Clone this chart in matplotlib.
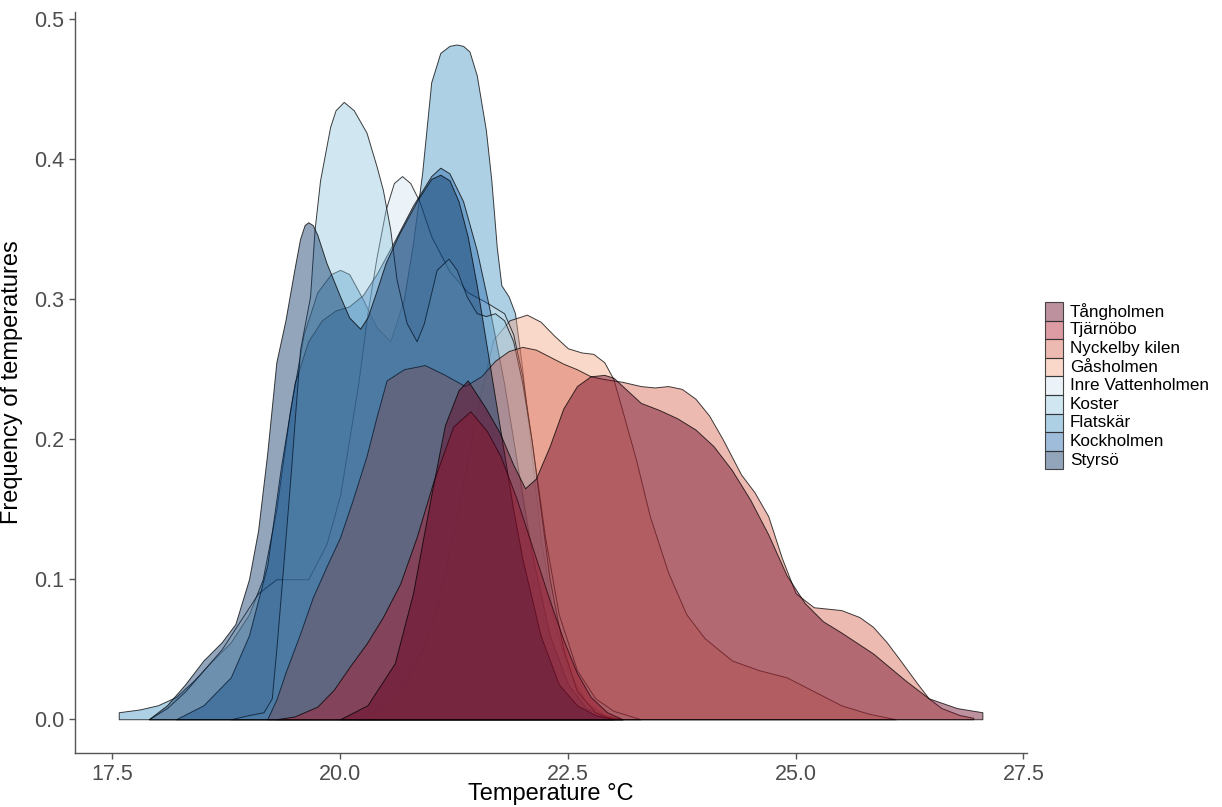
import matplotlib
matplotlib.use("Agg")
import matplotlib.pyplot as plt
from matplotlib.colors import to_rgb

# ---------------- data ----------------
sites = ["Tångholmen", "Tjärnöbo", "Nyckelby kilen", "Gåsholmen",
         "Inre Vattenholmen", "Koster", "Flatskär", "Kockholmen", "Styrsö"]
fills = ["#67001f", "#b2182b", "#d6604d", "#f4a582",
         "#d1e5f0", "#92c5de", "#4393c3", "#2166ac", "#053061"]
# drawing order (factor levels, alphabetical)
draw_order = ["Flatskär", "Gåsholmen", "Inre Vattenholmen", "Kockholmen", "Koster",
              "Nyckelby kilen", "Styrsö", "Tjärnöbo", "Tångholmen"]

styrso_t = [17.9, 18.1, 18.3, 18.5, 18.7, 18.85, 19.0, 19.1, 19.2, 19.3, 19.4, 19.5, 19.56, 19.61, 19.65,
            19.7, 19.75, 19.85, 20.0, 20.1, 20.22, 20.3, 20.4, 20.5, 20.65, 20.85, 21.0, 21.1, 21.2,
            21.3, 21.4, 21.5, 21.6, 21.7, 21.8, 21.9, 22.0, 22.2, 22.4, 22.6, 22.8, 23.0]
styrso_d = [0.0, 0.01, 0.025, 0.042, 0.055, 0.068, 0.1, 0.135, 0.19, 0.255, 0.285, 0.322, 0.343, 0.353, 0.355,
            0.353, 0.346, 0.326, 0.302, 0.287, 0.279, 0.287, 0.306, 0.326, 0.347, 0.371, 0.386, 0.389, 0.385,
            0.37, 0.345, 0.31, 0.27, 0.23, 0.19, 0.15, 0.115, 0.06, 0.025, 0.01, 0.003, 0.0]

kock_t = [18.2, 18.5, 18.8, 19.0, 19.2, 19.35, 19.5, 19.65, 19.8, 19.95, 20.1, 20.25, 20.4, 20.6, 20.8,
          21.0, 21.1, 21.2, 21.35, 21.5, 21.65, 21.8, 21.95, 22.1, 22.3, 22.5, 22.7, 22.9, 23.1]
kock_d = [0.0, 0.01, 0.03, 0.06, 0.11, 0.18, 0.24, 0.27, 0.285, 0.292, 0.295, 0.303, 0.318, 0.342, 0.367,
          0.388, 0.394, 0.39, 0.37, 0.335, 0.29, 0.24, 0.18, 0.12, 0.06, 0.025, 0.008, 0.002, 0.0]

flat_t = [17.57, 17.8, 18.0, 18.2, 18.4, 18.6, 18.8, 19.0, 19.15, 19.3, 19.45, 19.6, 19.75, 19.9, 20.0,
          20.1, 20.25, 20.4, 20.55, 20.7, 20.8, 20.9, 21.0, 21.1, 21.2, 21.28, 21.35, 21.42, 21.5, 21.6,
          21.66, 21.72, 21.77, 21.85, 21.92, 22.0, 22.1, 22.2, 22.35, 22.5, 22.7, 22.9, 23.1]
flat_d = [0.005, 0.007, 0.01, 0.016, 0.028, 0.042, 0.055, 0.075, 0.1, 0.15, 0.22, 0.275, 0.305, 0.318, 0.321,
          0.318, 0.3, 0.28, 0.27, 0.3, 0.34, 0.39, 0.455, 0.476, 0.481, 0.482, 0.481, 0.477, 0.46, 0.421,
          0.385, 0.337, 0.31, 0.302, 0.29, 0.25, 0.19, 0.13, 0.07, 0.035, 0.012, 0.003, 0.0]

koster_t = [18.8, 19.0, 19.16, 19.25, 19.3, 19.36, 19.45, 19.56, 19.67, 19.72, 19.78, 19.89, 19.95,
            20.04, 20.15, 20.29, 20.4, 20.47, 20.55, 20.62, 20.73, 20.84, 20.92, 20.99, 21.06, 21.19,
            21.28, 21.39, 21.5, 21.6, 21.7, 21.8, 21.9, 22.0, 22.1, 22.2, 22.3, 22.45, 22.6, 22.8, 23.0]
koster_d = [0.0, 0.003, 0.005, 0.015, 0.05, 0.097, 0.169, 0.264, 0.302, 0.35, 0.385, 0.423, 0.435,
            0.441, 0.435, 0.419, 0.395, 0.378, 0.35, 0.314, 0.283, 0.27, 0.283, 0.302, 0.321, 0.329,
            0.321, 0.302, 0.29, 0.288, 0.29, 0.285, 0.27, 0.24, 0.2, 0.15, 0.1, 0.05, 0.02, 0.005, 0.0]

inre_t = [17.9, 18.1, 18.3, 18.5, 18.7, 18.9, 19.1, 19.3, 19.5, 19.65, 19.85, 20.0, 20.1, 20.2, 20.3,
          20.4, 20.5, 20.59, 20.68, 20.77, 20.87, 21.0, 21.2, 21.4, 21.6, 21.8, 21.9, 22.0, 22.1, 22.25,
          22.4, 22.6, 22.8, 23.0, 23.3]
inre_d = [0.0, 0.008, 0.02, 0.035, 0.05, 0.07, 0.09, 0.1, 0.1, 0.1, 0.125, 0.16, 0.2, 0.24, 0.29,
          0.33, 0.364, 0.383, 0.388, 0.383, 0.37, 0.345, 0.32, 0.305, 0.298, 0.29, 0.275, 0.245, 0.2, 0.13,
          0.075, 0.035, 0.015, 0.006, 0.0]

gas_t = [20.2, 20.5, 20.7, 20.9, 21.1, 21.3, 21.5, 21.68, 21.86, 22.05, 22.2, 22.35, 22.5, 22.65,
         22.78, 22.9, 23.0, 23.1, 23.25, 23.4, 23.6, 23.8, 24.0, 24.3, 24.6, 24.9, 25.2, 25.5,
         25.8, 26.1]
gas_d = [0.0, 0.01, 0.025, 0.05, 0.09, 0.15, 0.22, 0.271, 0.285, 0.289, 0.284, 0.274, 0.265, 0.262,
         0.261, 0.255, 0.243, 0.22, 0.185, 0.145, 0.105, 0.075, 0.058, 0.042, 0.035, 0.03, 0.02, 0.01,
         0.004, 0.0]

nyck_t = [19.2, 19.3, 19.41, 19.56, 19.7, 19.85, 20.0, 20.14, 20.29, 20.4, 20.51, 20.7, 20.93, 21.15,
          21.37, 21.55, 21.7, 21.85, 22.0, 22.15, 22.3, 22.45, 22.6, 22.75, 22.9, 23.1, 23.3, 23.45,
          23.6, 23.75, 23.9, 24.05, 24.2, 24.4, 24.55, 24.7, 24.85, 25.0, 25.2, 25.5, 25.7, 25.85,
          26.0, 26.15, 26.33, 26.46, 26.6, 26.8, 26.95]
nyck_d = [0.0, 0.014, 0.035, 0.061, 0.087, 0.109, 0.13, 0.157, 0.188, 0.216, 0.242, 0.25, 0.253, 0.246,
          0.238, 0.245, 0.256, 0.263, 0.266, 0.264, 0.259, 0.254, 0.25, 0.245, 0.243, 0.241, 0.238, 0.237,
          0.238, 0.236, 0.229, 0.217, 0.2, 0.175, 0.162, 0.145, 0.115, 0.09, 0.08, 0.078, 0.073, 0.066,
          0.055, 0.042, 0.026, 0.015, 0.008, 0.003, 0.001]

tjarn_t = [19.3, 19.5, 19.75, 19.93, 20.11, 20.29, 20.47, 20.66, 20.84, 21.02, 21.24, 21.43, 21.61,
           21.76, 21.94, 22.12, 22.3, 22.45, 22.6, 22.75, 22.93, 23.1]
tjarn_d = [0.0, 0.002, 0.009, 0.021, 0.038, 0.054, 0.073, 0.097, 0.13, 0.169, 0.209, 0.22, 0.206,
           0.188, 0.157, 0.121, 0.085, 0.057, 0.033, 0.016, 0.005, 0.0]

tang_t = [20.0, 20.3, 20.6, 20.8, 21.0, 21.15, 21.3, 21.4, 21.6, 21.75, 21.9, 22.03, 22.15, 22.3,
          22.45, 22.6, 22.75, 22.9, 23.0, 23.15, 23.3, 23.5, 23.7, 23.9, 24.1, 24.3, 24.5, 24.7, 24.9,
          25.1, 25.3, 25.5, 25.85, 26.2, 26.46, 26.77, 27.05]
tang_d = [0.0, 0.01, 0.04, 0.09, 0.16, 0.21, 0.235, 0.242, 0.222, 0.205, 0.182, 0.165, 0.172, 0.195,
          0.222, 0.238, 0.245, 0.246, 0.244, 0.235, 0.226, 0.221, 0.215, 0.207, 0.195, 0.178, 0.157, 0.132,
          0.103, 0.083, 0.07, 0.062, 0.047, 0.028, 0.015, 0.008, 0.005]

curves = {
    "Tångholmen": (tang_t, tang_d),
    "Tjärnöbo": (tjarn_t, tjarn_d),
    "Nyckelby kilen": (nyck_t, nyck_d),
    "Gåsholmen": (gas_t, gas_d),
    "Inre Vattenholmen": (inre_t, inre_d),
    "Koster": (koster_t, koster_d),
    "Flatskär": (flat_t, flat_d),
    "Kockholmen": (kock_t, kock_d),
    "Styrsö": (styrso_t, styrso_d),
}

xticks = [17.5, 20.0, 22.5, 25.0, 27.5]
yticks = [0.0, 0.1, 0.2, 0.3, 0.4, 0.5]

# ---------------- figure ----------------
plt.rcParams["font.family"] = ["Liberation Sans", "DejaVu Sans"]
W, H = 1222, 807
fig = plt.figure(figsize=(W / 100, H / 100), dpi=100)
ax = fig.add_axes([75 / W, 1 - 752.7 / H, (1027 - 75) / W, (752.7 - 12) / H])

ALPHA = 0.43
for name in draw_order:
    t, d = curves[name]
    r, g, b = to_rgb(fills[sites.index(name)])
    ax.fill_between(t, d, 0, facecolor=(r, g, b, ALPHA),
                    edgecolor=(0, 0, 0, 0.75), linewidth=0.7)

ax.set_xlim(17.09, 27.54)
ax.set_ylim(-0.0239, 0.5052)
ax.set_xticks(xticks)
ax.set_xticklabels([f"{v:.1f}" for v in xticks])
ax.set_yticks(yticks)
ax.set_yticklabels([f"{v:.1f}" for v in yticks])
for s in ["top", "right"]:
    ax.spines[s].set_visible(False)
for s in ["left", "bottom"]:
    ax.spines[s].set_color("#555555")
    ax.spines[s].set_linewidth(1.0)
ax.tick_params(axis="both", colors="#555555", length=4, width=1.0,
               labelsize=15.5, labelcolor="#4d4d4d", pad=4)
ax.set_xlabel("Temperature °C", fontsize=17, color="black", labelpad=-1)
ax.set_ylabel("Frequency of temperatures", fontsize=17, color="black", labelpad=8)

# ---------------- legend ----------------
key_x0, key_w = 1045, 18
top, step = 302, 18.6
for i, name in enumerate(sites):
    r, g, b = to_rgb(fills[i])
    y0 = top + i * step
    fig.patches.append(plt.Rectangle((key_x0 / W, 1 - (y0 + step) / H), key_w / W, step / H,
                                     transform=fig.transFigure,
                                     facecolor=(r, g, b, ALPHA), edgecolor=(0.2, 0.2, 0.2, 0.9),
                                     linewidth=0.8))
    fig.text(1070 / W, 1 - (y0 + step / 2) / H, name, fontsize=12.3, va="center", ha="left",
             color="black")

fig.savefig("out.png", dpi=100)
